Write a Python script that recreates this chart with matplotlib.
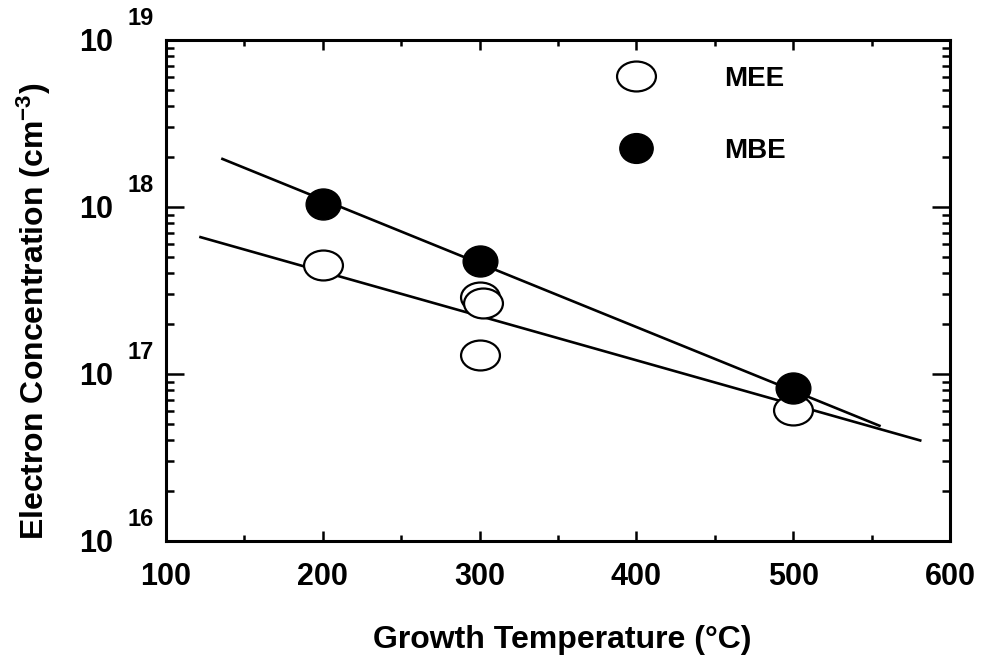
import matplotlib
matplotlib.use("Agg")
import matplotlib.pyplot as plt
from matplotlib.path import Path
from matplotlib.transforms import Affine2D
from matplotlib.ticker import MultipleLocator, LogLocator, NullFormatter

plt.rcParams["font.family"] = ["Liberation Sans", "DejaVu Sans"]
plt.rcParams["font.weight"] = "bold"
plt.rcParams["mathtext.fontset"] = "custom"
plt.rcParams["mathtext.rm"] = "Liberation Sans:bold"
plt.rcParams["mathtext.it"] = "Liberation Sans:bold"
plt.rcParams["mathtext.bf"] = "Liberation Sans:bold"

# data
mee_temp = [200, 300, 302, 300, 500]
mee_conc = [4.5e17, 2.9e17, 2.65e17, 1.3e17, 6.1e16]
mbe_temp = [200, 300, 500]
mbe_conc = [1.04e18, 4.75e17, 8.3e16]

# fitted lines (end points)
mbe_fit_temp = [136, 555]
mbe_fit_conc = [1.94e18, 4.9e16]
mee_fit_temp = [122, 581]
mee_fit_conc = [6.6e17, 4.0e16]

x_ticks = [100, 200, 300, 400, 500, 600]
y_exponents = [16, 17, 18, 19]

# elliptic markers, wider than tall
open_mark = Path.unit_circle().transformed(Affine2D().scale(1.3, 1.0))
full_mark = Path.unit_circle().transformed(Affine2D().scale(1.12, 1.0))

fig = plt.figure(figsize=(9.99, 6.64), dpi=100)
ax = fig.add_axes([166 / 999, 1 - 541 / 664, 784 / 999, 501 / 664])

ax.plot(mbe_fit_temp, mbe_fit_conc, color="black", lw=1.9, zorder=2)
ax.plot(mee_fit_temp, mee_fit_conc, color="black", lw=1.9, zorder=2)

ax.plot(mee_temp, mee_conc, ls="none", marker=open_mark, ms=28,
        mfc="white", mec="black", mew=1.6, zorder=3)
ax.plot(mbe_temp, mbe_conc, ls="none", marker=full_mark, ms=25,
        mfc="black", mec="black", mew=1, zorder=4)

# legend drawn inside the frame, as on the original
ax.plot([400], [6.1e18], ls="none", marker=open_mark, ms=28,
        mfc="white", mec="black", mew=1.6)
ax.plot([400], [2.25e18], ls="none", marker=full_mark, ms=24,
        mfc="black", mec="black")
ax.text(456, 6.1e18, "MEE", fontsize=20, fontweight="bold", va="center_baseline")
ax.text(456, 2.25e18, "MBE", fontsize=20, fontweight="bold", va="center_baseline")

ax.set_xlim(100, 600)
ax.set_yscale("log")
ax.set_ylim(1e16, 1e19)

ax.set_xticks(x_ticks)
ax.xaxis.set_minor_locator(MultipleLocator(50))
ax.yaxis.set_major_locator(LogLocator(base=10, numticks=10))
ax.yaxis.set_minor_locator(LogLocator(base=10, subs=range(2, 10), numticks=20))
ax.yaxis.set_major_formatter(NullFormatter())
ax.yaxis.set_minor_formatter(NullFormatter())

ax.tick_params(which="both", direction="in", top=True, right=True, width=1.8, color="black")
ax.tick_params(axis="x", which="major", length=7, labelsize=22, pad=15)
ax.tick_params(axis="x", which="minor", length=4)
ax.tick_params(axis="y", which="major", length=13)
ax.tick_params(axis="y", which="minor", length=6)
for lab in ax.get_xticklabels():
    lab.set_fontweight("bold")

for sp in ax.spines.values():
    sp.set_linewidth(2.2)

# y tick labels as 10 with a large raised exponent
for e in y_exponents:
    ax.annotate("10", xy=(0, 10.0 ** e), xycoords=("axes fraction", "data"),
                xytext=(-38, -8), textcoords="offset points",
                ha="right", va="baseline", fontsize=22, fontweight="bold")
    ax.annotate(str(e), xy=(0, 10.0 ** e), xycoords=("axes fraction", "data"),
                xytext=(-28, 11), textcoords="offset points",
                ha="left", va="baseline", fontsize=17, fontweight="bold")

fig.text(562 / 999, 1 - 648 / 664, "Growth Temperature (°C)", fontsize=23,
         fontweight="bold", ha="center", va="baseline")
fig.text(44 / 999, 1 - 311 / 664, r"Electron Concentration (cm$^{-3}$)", fontsize=23,
         fontweight="bold", ha="center", va="baseline", rotation=90,
         rotation_mode="anchor")

fig.savefig("out.png", dpi=100)
plt.close(fig)
